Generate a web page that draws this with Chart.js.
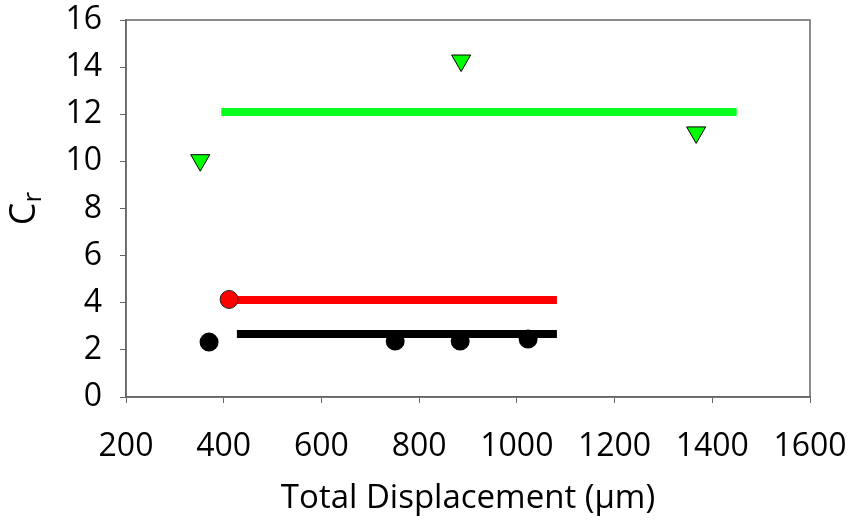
<!DOCTYPE html>
<html>
<head>
<meta charset="utf-8">
<script src="https://cdn.jsdelivr.net/npm/chart.js@4"></script>
<style>
  html, body { margin: 0; padding: 0; background: #fff; }
  #wrap { width: 851px; height: 522px; }
</style>
</head>
<body>
<div id="wrap"><canvas id="crChart" width="851" height="522"></canvas></div>
<script>
// measured points
const greenX = [352, 886, 1367];
const greenY = [10.05, 14.28, 11.23];
const blackX = [370, 751, 884, 1023];
const blackY = [2.33, 2.38, 2.38, 2.46];
const redX = [411];
const redY = [4.14];

// mean lines
const greenLineX = [395, 1450];
const greenLineY = [12.1, 12.1];
const redLineX = [411, 1082];
const redLineY = [4.12, 4.12];
const blackLineX = [427, 1082];
const blackLineY = [2.67, 2.67];

const xTicks = [200, 400, 600, 800, 1000, 1200, 1400, 1600];
const yTicks = [0, 2, 4, 6, 8, 10, 12, 14, 16];

const pts = (xs, ys) => xs.map((x, i) => ({ x: x, y: ys[i] }));

const axisColor = '#666666';
const fontFamily = '"Open Sans", sans-serif';

function noPad(scale) {
  scale.paddingLeft = 0;
  scale.paddingRight = 0;
  scale.paddingTop = 0;
  scale.paddingBottom = 0;
}

const frame = {
  id: 'frame',
  afterDraw(chart) {
    const { ctx, chartArea: a } = chart;
    ctx.save();
    ctx.strokeStyle = axisColor;
    ctx.lineWidth = 1.5;
    ctx.strokeRect(a.left, a.top, a.right - a.left, a.bottom - a.top);
    // y title: C with subscript r
    ctx.translate(22, (a.top + a.bottom) / 2);
    ctx.rotate(-Math.PI / 2);
    ctx.fillStyle = '#000';
    ctx.textBaseline = 'alphabetic';
    ctx.font = '36px ' + fontFamily;
    const wc = ctx.measureText('C').width;
    ctx.font = '26px ' + fontFamily;
    const wr = ctx.measureText('r').width;
    const start = -(wc + wr) / 2;
    ctx.font = '36px ' + fontFamily;
    ctx.fillText('C', start, 13);
    ctx.font = '26px ' + fontFamily;
    ctx.fillText('r', start + wc, 19);
    ctx.restore();
  }
};

new Chart(document.getElementById('crChart'), {
  type: 'scatter',
  data: {
    datasets: [
      {
        data: pts(redX, redY),
        pointRadius: 9,
        pointBackgroundColor: '#ff0000',
        pointBorderColor: '#222',
        pointBorderWidth: 1,
        showLine: false
      },
      {
        data: pts(greenX, greenY),
        pointStyle: 'triangle',
        pointRotation: 180,
        pointRadius: 11,
        pointBackgroundColor: '#00ff00',
        pointBorderColor: '#000',
        pointBorderWidth: 1,
        showLine: false
      },
      {
        data: pts(blackX, blackY),
        pointRadius: 9.5,
        pointBackgroundColor: '#000',
        pointBorderColor: '#000',
        pointBorderWidth: 0,
        showLine: false
      },
      {
        data: pts(greenLineX, greenLineY),
        showLine: true,
        borderColor: '#0aff1e',
        borderWidth: 8,
        borderCapStyle: 'butt',
        pointRadius: 0
      },
      {
        data: pts(redLineX, redLineY),
        showLine: true,
        borderColor: '#ff0000',
        borderWidth: 8,
        borderCapStyle: 'butt',
        pointRadius: 0
      },
      {
        data: pts(blackLineX, blackLineY),
        showLine: true,
        borderColor: '#000',
        borderWidth: 8,
        borderCapStyle: 'butt',
        pointRadius: 0
      }
    ]
  },
  options: {
    responsive: false,
    animation: false,
    events: [],
    layout: { padding: { left: 0, right: 41, top: 20, bottom: 0 } },
    plugins: { legend: { display: false }, tooltip: { enabled: false } },
    scales: {
      x: {
        type: 'linear',
        min: 200,
        max: 1600,
        afterFit(scale) { scale.height = 125; noPad(scale); },
        afterBuildTicks(scale) { scale.ticks = xTicks.map(v => ({ value: v })); },
        grid: { drawOnChartArea: false, tickLength: 6, color: axisColor, tickColor: axisColor },
        border: { color: axisColor, width: 1.5 },
        ticks: {
          color: '#000', padding: 25, maxRotation: 0,
          font: { family: fontFamily, size: 32 },
          callback: v => String(v)
        },
        title: {
          display: true,
          text: 'Total Displacement (\u03bcm)',
          color: '#000',
          padding: { top: 0, bottom: 4 },
          font: { family: fontFamily, size: 33 }
        }
      },
      y: {
        type: 'linear',
        min: 0,
        max: 16,
        afterFit(scale) { scale.width = 126; noPad(scale); },
        afterBuildTicks(scale) { scale.ticks = yTicks.map(v => ({ value: v })); },
        grid: { drawOnChartArea: false, tickLength: 6, color: axisColor, tickColor: axisColor },
        border: { color: axisColor, width: 1.5 },
        ticks: {
          color: '#000', padding: 18,
          font: { family: fontFamily, size: 32 },
          callback: v => String(v)
        }
      }
    }
  },
  plugins: [frame]
});
</script>
</body>
</html>
